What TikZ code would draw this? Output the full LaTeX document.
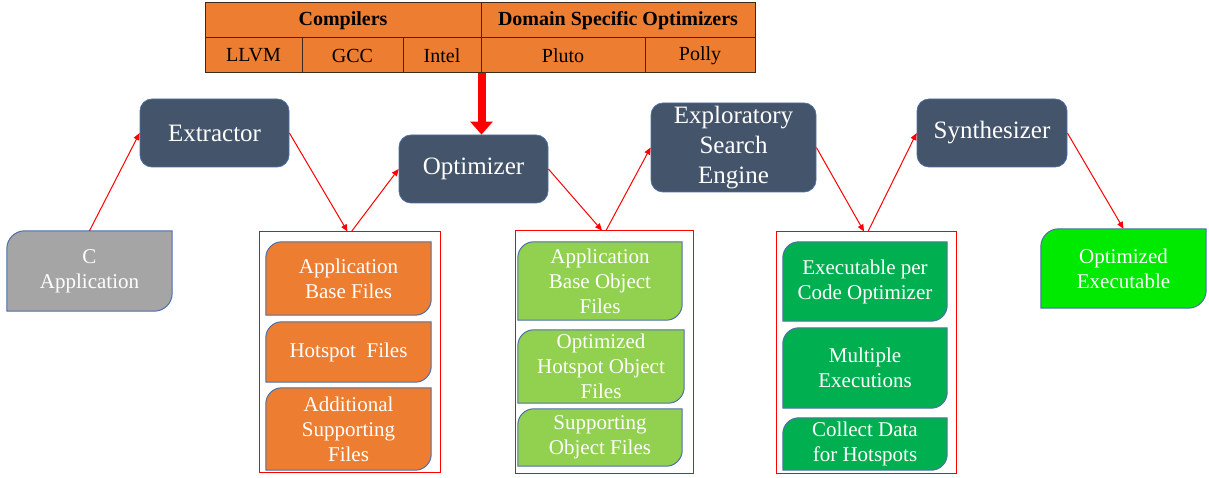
\documentclass[tikz,border=0pt]{standalone}
\usepackage{fontspec}
\setmainfont{LiberationSerif}[Extension=.ttf, UprightFont=*-Regular, BoldFont=*-Bold]
\usetikzlibrary{arrows.meta,backgrounds}
\definecolor{darkbox}{HTML}{44546A}
\definecolor{orng}{HTML}{ED7D31}
\definecolor{lgreen}{HTML}{92D050}
\definecolor{dgreen}{HTML}{00B050}
\definecolor{bgreen}{HTML}{00EA00}
\definecolor{gry}{HTML}{A5A5A5}
\definecolor{bord}{HTML}{4F6FA8}
\definecolor{tabline}{HTML}{3A2A1A}
\newcommand\diagshape[3]{%
  \filldraw[fill=#2, draw=bord, line width=1pt]
    ([yshift=-#3]#1.north west) arc[start angle=180,end angle=90,radius=#3]
    -- (#1.north east) -- ([yshift=#3]#1.south east)
    arc[start angle=0,end angle=-90,radius=#3] -- (#1.south west) -- cycle;}
\begin{document}
\begin{tikzpicture}[x=1pt,y=1pt,
  txt/.style={text=white, align=center, inner sep=0pt},
  filebox/.style={txt, font=\fontsize{21}{25}\selectfont},
  darknode/.style={txt, fill=darkbox, draw=bord, line width=0.8pt, rounded corners=12pt, font=\fontsize{25}{30}\selectfont},
  container/.style={draw=red, line width=1pt, inner sep=0pt},
  cell/.style={draw=tabline, fill=orng, line width=1pt, inner sep=0pt, font=\fontsize{20}{24}\selectfont},
  flow/.style={red, line width=1pt, -{Triangle[length=7pt,width=6pt]}},
]
\useasboundingbox (0,0) rectangle (1209,-478);

% table
\node[cell, minimum width=276pt, minimum height=35pt, font=\fontsize{20}{24}\selectfont\bfseries] (tcomp) at (343,-20.5) {Compilers};
\node[cell, minimum width=274pt, minimum height=35pt, font=\fontsize{20}{24}\selectfont\bfseries] (tdso) at (618,-20.5) {Domain Specific Optimizers};
\node[cell, minimum width=97pt, minimum height=35pt] (tllvm) at (253.5,-55.5) {LLVM};
\node[cell, minimum width=101pt, minimum height=35pt] (tgcc) at (352.5,-55.5) {GCC};
\node[cell, minimum width=78pt, minimum height=35pt] (tintel) at (442,-55.5) {Intel};
\node[cell, minimum width=164pt, minimum height=35pt] (tpluto) at (563,-55.5) {Pluto};
\node[cell, minimum width=110pt, minimum height=35pt] (tpolly) at (700,-55.5) {Polly};

% main nodes
\node[darknode, minimum width=149pt, minimum height=68pt] (extr) at (214.5,-133) {Extractor};
\node[darknode, minimum width=149pt, minimum height=68pt] (opt) at (473.5,-169) {Optimizer};
\node[darknode, minimum width=165pt, minimum height=89pt] (expl) at (733.5,-147.5) {Exploratory\\Search\\Engine};
\node[darknode, minimum width=150pt, minimum height=68pt] (synth) at (992,-133) {Synthesizer};

\node[filebox, minimum width=165pt, minimum height=80pt] (capp) at (89.5,-271) {C\\Application};
\node[filebox, minimum width=165pt, minimum height=79pt] (oexe) at (1123.5,-268.5) {Optimized\\Executable};

% containers
\node[container, minimum width=181pt, minimum height=240pt] (c1) at (349.5,-352) {};
\node[container, minimum width=178pt, minimum height=242pt] (c2) at (604,-352) {};
\node[container, minimum width=180pt, minimum height=241pt] (c3) at (866,-352.5) {};

% file boxes
\node[filebox, minimum width=165pt, minimum height=73pt] (o1) at (348.5,-278.5) {Application\\Base Files};
\node[filebox, minimum width=165pt, minimum height=60pt] (o2) at (348.5,-352) {Hotspot\ \ Files};
\node[filebox, minimum width=165pt, minimum height=82pt] (o3) at (348.5,-429) {Additional\\Supporting\\Files};

\node[filebox, minimum width=164pt, minimum height=78pt] (g1) at (600,-281) {Application\\Base Object\\Files};
\node[filebox, minimum width=166pt, minimum height=73pt] (g2) at (601,-366.5) {Optimized\\Hotspot Object\\Files};
\node[filebox, minimum width=164pt, minimum height=57pt] (g3) at (600,-437.5) {Supporting\\Object Files};

\node[filebox, minimum width=164pt, minimum height=79pt] (d1) at (865,-281.5) {Executable per\\Code Optimizer};
\node[filebox, minimum width=164pt, minimum height=80pt] (d2) at (865,-368) {Multiple\\Executions};
\node[filebox, minimum width=164pt, minimum height=52pt] (d3) at (865,-444) {Collect Data\\for Hotspots};

\begin{scope}[on background layer]
  \diagshape{capp}{gry}{18pt}
  \diagshape{oexe}{bgreen}{18pt}
  \diagshape{o1}{orng}{16pt}
  \diagshape{o2}{orng}{16pt}
  \diagshape{o3}{orng}{16pt}
  \diagshape{g1}{lgreen}{16pt}
  \diagshape{g2}{lgreen}{16pt}
  \diagshape{g3}{lgreen}{16pt}
  \diagshape{d1}{dgreen}{16pt}
  \diagshape{d2}{dgreen}{16pt}
  \diagshape{d3}{dgreen}{16pt}
\end{scope}

% connectors
\draw[red, line width=8pt, -{Triangle[width=22pt,length=13pt]}] (tintel.south east) -- (tintel.south east |- opt.north);
\draw[flow] (capp.north) -- (extr.west);
\draw[flow] (extr.east) -- ([xshift=-2pt]c1.north);
\draw[flow] ([xshift=2pt]c1.north) -- (opt.west);
\draw[flow] (opt.east) -- ([xshift=-2pt]c2.north);
\draw[flow] ([xshift=2pt]c2.north) -- (expl.west);
\draw[flow] (expl.east) -- ([xshift=-2pt]c3.north);
\draw[flow] ([xshift=2pt]c3.north) -- (synth.west);
\draw[flow] (synth.east) -- (oexe.north);
\end{tikzpicture}
\end{document}
